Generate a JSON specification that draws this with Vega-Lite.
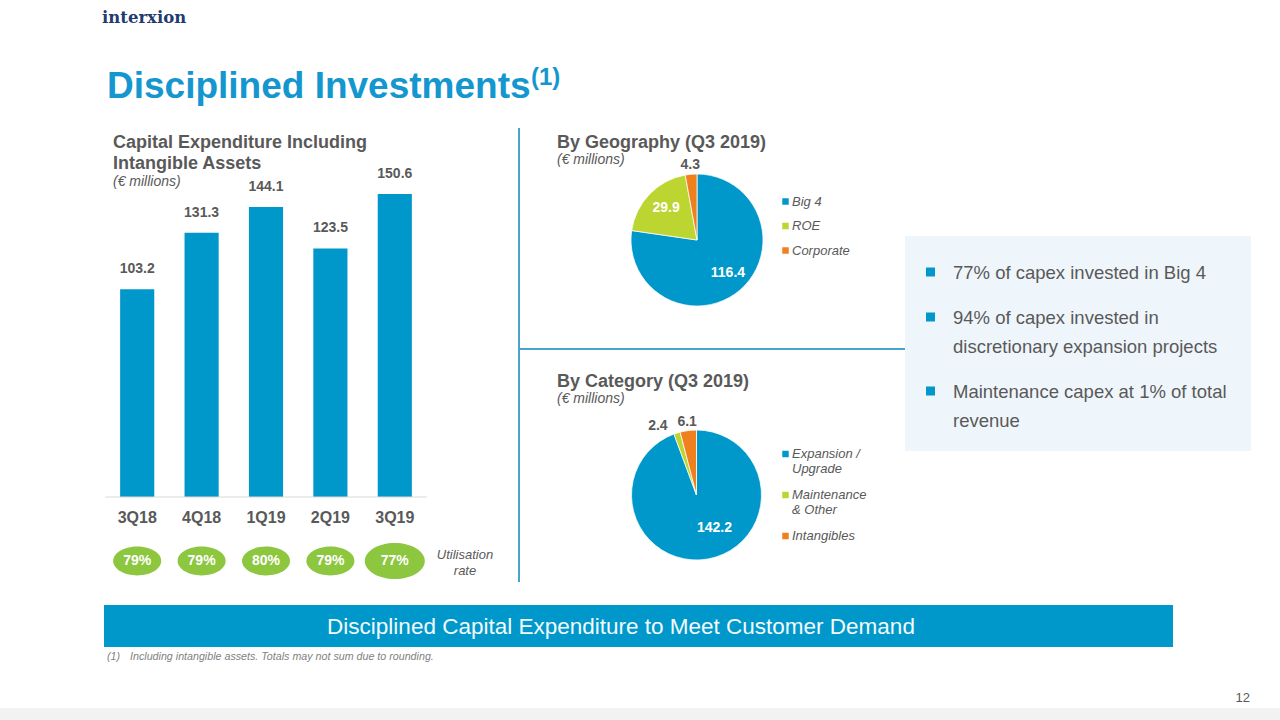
{
  "$schema": "https://vega.github.io/schema/vega-lite/v6.json",
  "padding": 0,
  "background": "white",
  "spacing": 0,
  "resolve": {"scale": {"color": "independent", "theta": "independent"}},
  "config": {"view": {"stroke": null}, "font": "Liberation Sans", "concat": {"spacing": 0}},
  "datasets": {
    "capex": [
      {"q": "3Q18", "capex": 103.2, "util": "79%"},
      {"q": "4Q18", "capex": 131.3, "util": "79%"},
      {"q": "1Q19", "capex": 144.1, "util": "80%"},
      {"q": "2Q19", "capex": 123.5, "util": "79%"},
      {"q": "3Q19", "capex": 150.6, "util": "77%"}
    ],
    "geo": [
      {"cat": "Big 4", "v": 116.4, "o": 1},
      {"cat": "ROE", "v": 29.9, "o": 2},
      {"cat": "Corporate", "v": 4.3, "o": 3}
    ],
    "kind": [
      {"cat": "Expansion / Upgrade", "v": 142.2, "o": 1},
      {"cat": "Maintenance & Other", "v": 2.4, "o": 2},
      {"cat": "Intangibles", "v": 6.1, "o": 3}
    ],
    "none": []
  },
  "vconcat": [
    {
      "width": 1280, "height": 128,
      "data": {"values": [{}]},
      "layer": [
        {"mark": {"type": "text", "text": "interxion", "x": 102, "y": 23, "align": "left", "baseline": "alphabetic", "font": "DejaVu Serif", "fontWeight": "bold", "fontSize": 16.5, "fill": "#1F3B6F"}},
        {"mark": {"type": "text", "text": "Disciplined Investments", "x": 107, "y": 98, "align": "left", "baseline": "alphabetic", "fontWeight": "bold", "fontSize": 37, "fill": "#1496CF"}},
        {"mark": {"type": "text", "text": "(1)", "x": 531, "y": 85, "align": "left", "baseline": "alphabetic", "fontWeight": "bold", "fontSize": 24, "fill": "#1496CF"}}
      ]
    },
    {
      "spacing": 0,
      "resolve": {"scale": {"color": "independent", "theta": "independent"}},
      "hconcat": [
        {
          "width": 518, "height": 454,
          "data": {"name": "capex"},
          "layer": [
            {
              "mark": {"type": "bar", "fill": "#0098CA"},
              "encoding": {
                "x": {"field": "q", "type": "nominal", "sort": null, "axis": null,
                      "scale": {"domain": ["3Q18", "4Q18", "1Q19", "2Q19", "3Q19"], "range": [105, 427], "paddingInner": 0.47, "paddingOuter": 0.235}},
                "y": {"field": "capex", "type": "quantitative", "axis": null, "scale": {"domain": [0, 160], "range": [369, 47]}}
              }
            },
            {
              "mark": {"type": "text", "dy": -20, "fontWeight": "bold", "fontSize": 14, "fill": "#595959", "baseline": "middle"},
              "encoding": {
                "x": {"field": "q", "type": "nominal"},
                "y": {"field": "capex", "type": "quantitative"},
                "text": {"field": "capex", "type": "quantitative", "format": ".1f"}
              }
            },
            {
              "mark": {"type": "text", "dy": 21, "fontWeight": "bold", "fontSize": 16, "fill": "#595959", "baseline": "middle"},
              "encoding": {
                "x": {"field": "q", "type": "nominal"},
                "y": {"datum": 0},
                "text": {"field": "q"}
              }
            },
            {
              "data": {"values": [{}]},
              "mark": {"type": "rule", "stroke": "#D9D9D9", "strokeWidth": 1, "xOffset": -32, "x2Offset": 32},
              "encoding": {"x": {"datum": "3Q18"}, "x2": {"datum": "3Q19"}, "y": {"datum": 0}}
            },
            {
              "mark": {"type": "point", "shape": "M -1 0 C -1 -0.3314 -0.5523 -0.6 0 -0.6 C 0.5523 -0.6 1 -0.3314 1 0 C 1 0.3314 0.5523 0.6 0 0.6 C -0.5523 0.6 -1 0.3314 -1 0 Z", "filled": true, "fill": "#8DC63F", "opacity": 1, "strokeWidth": 0, "y": 433},
              "encoding": {
                "x": {"field": "q", "type": "nominal"},
                "size": {"condition": {"test": "datum.q === '3Q19'", "value": 3600}, "value": 2304}
              }
            },
            {
              "mark": {"type": "text", "fill": "white", "fontWeight": "bold", "fontSize": 14, "y": 433, "baseline": "middle"},
              "encoding": {"x": {"field": "q", "type": "nominal"}, "text": {"field": "util"}}
            },
            {
              "data": {"values": [{}]},
              "mark": {"type": "text", "text": ["Capital Expenditure Including", "Intangible Assets"], "x": 113, "y": 19.5, "align": "left", "baseline": "alphabetic", "lineHeight": 21, "fontWeight": "bold", "fontSize": 18, "fill": "#595959"}
            },
            {
              "data": {"values": [{}]},
              "mark": {"type": "text", "text": "(€ millions)", "x": 113, "y": 57.5, "align": "left", "baseline": "alphabetic", "fontStyle": "italic", "fontSize": 14, "fill": "#595959"}
            },
            {
              "data": {"values": [{}]},
              "mark": {"type": "text", "text": ["Utilisation", "rate"], "x": 465, "y": 431, "align": "center", "baseline": "alphabetic", "lineHeight": 16, "fontStyle": "italic", "fontSize": 13, "fill": "#595959"}
            }
          ]
        },
        {
          "width": 2, "height": 454, "view": {"fill": "#4AA3CC"},
          "data": {"name": "none"},
          "mark": {"type": "text", "text": ""}
        },
        {
          "spacing": 0,
          "resolve": {"scale": {"color": "independent", "theta": "independent"}},
          "vconcat": [
            {
              "width": 385, "height": 220,
              "data": {"name": "geo"},
              "layer": [
                {
                  "mark": {"type": "arc", "outerRadius": 66, "xOffset": -15.5, "yOffset": 2, "stroke": "white", "strokeWidth": 0.75},
                  "encoding": {
                    "theta": {"field": "v", "type": "quantitative", "stack": true},
                    "order": {"field": "o", "type": "quantitative"},
                    "color": {"field": "cat", "type": "nominal", "sort": null,
                      "scale": {"domain": ["Big 4", "ROE", "Corporate"], "range": ["#0098CA", "#BDD531", "#F07F1E"]},
                      "legend": {"orient": "none", "legendX": 259, "legendY": 67, "title": null, "symbolType": "square", "symbolSize": 42, "symbolStrokeWidth": 0, "labelFontSize": 13, "labelFontStyle": "italic", "labelColor": "#595959", "labelFont": "Liberation Sans", "labelOffset": 0, "rowPadding": 10.5, "padding": 0, "labelBaseline": "middle"}}
                  }
                },
                {
                  "mark": {"type": "text", "radius": 45, "xOffset": -14, "yOffset": 1, "fill": "white", "fontWeight": "bold", "fontSize": 14, "baseline": "middle"},
                  "encoding": {
                    "theta": {"field": "v", "type": "quantitative", "stack": true},
                    "order": {"field": "o", "type": "quantitative"},
                    "detail": {"field": "cat"},
                    "text": {"condition": {"test": "datum.v < 10", "value": ""}, "field": "v", "type": "quantitative", "format": ".1f"}
                  }
                },
                {
                  "mark": {"type": "text", "radius": 75, "xOffset": -15.5, "yOffset": 2, "fill": "#595959", "fontWeight": "bold", "fontSize": 14, "baseline": "middle"},
                  "encoding": {
                    "theta": {"field": "v", "type": "quantitative", "stack": true},
                    "order": {"field": "o", "type": "quantitative"},
                    "detail": {"field": "cat"},
                    "text": {"condition": {"test": "datum.v >= 10", "value": ""}, "field": "v", "type": "quantitative", "format": ".1f"}
                  }
                },
                {
                  "data": {"values": [{}]},
                  "mark": {"type": "text", "text": "By Geography (Q3 2019)", "x": 37, "y": 19.5, "align": "left", "baseline": "alphabetic", "fontWeight": "bold", "fontSize": 18, "fill": "#595959"}
                },
                {
                  "data": {"values": [{}]},
                  "mark": {"type": "text", "text": "(€ millions)", "x": 37, "y": 36, "align": "left", "baseline": "alphabetic", "fontStyle": "italic", "fontSize": 14, "fill": "#595959"}
                }
              ]
            },
            {
              "width": 385, "height": 2, "view": {"fill": "#4AA3CC"},
              "data": {"name": "none"},
              "mark": {"type": "text", "text": ""}
            },
            {
              "width": 385, "height": 232,
              "data": {"name": "kind"},
              "layer": [
                {
                  "mark": {"type": "arc", "outerRadius": 65, "xOffset": -16, "yOffset": 29, "stroke": "white", "strokeWidth": 0.75},
                  "encoding": {
                    "theta": {"field": "v", "type": "quantitative", "stack": true},
                    "order": {"field": "o", "type": "quantitative"},
                    "color": {"field": "cat", "type": "nominal", "sort": null,
                      "scale": {"domain": ["Expansion / Upgrade", "Maintenance & Other", "Intangibles"], "range": ["#0098CA", "#BDD531", "#F07F1E"]},
                      "legend": {"orient": "none", "legendX": 259, "legendY": 97.5, "title": null, "symbolType": "square", "symbolSize": 42, "symbolStrokeWidth": 0, "labelFontSize": 13, "labelFontStyle": "italic", "labelColor": "#595959", "labelFont": "Liberation Sans", "labelOffset": 0, "rowPadding": 12, "padding": 0, "labelBaseline": "middle",
                        "labelExpr": "datum.label === 'Expansion / Upgrade' ? ['Expansion /', 'Upgrade'] : datum.label === 'Maintenance & Other' ? ['Maintenance', '& Other'] : datum.label"}}
                  }
                },
                {
                  "mark": {"type": "text", "radius": 34, "xOffset": -4, "yOffset": 29, "fill": "white", "fontWeight": "bold", "fontSize": 14, "baseline": "middle"},
                  "encoding": {
                    "theta": {"field": "v", "type": "quantitative", "stack": true},
                    "order": {"field": "o", "type": "quantitative"},
                    "detail": {"field": "cat"},
                    "text": {"condition": {"test": "datum.v < 10", "value": ""}, "field": "v", "type": "quantitative", "format": ".1f"}
                  }
                },
                {
                  "mark": {"type": "text", "radius": 74, "xOffset": -16, "yOffset": 29, "fill": "#595959", "fontWeight": "bold", "fontSize": 14, "baseline": "middle"},
                  "encoding": {
                    "theta": {"field": "v", "type": "quantitative", "stack": true},
                    "order": {"field": "o", "type": "quantitative"},
                    "detail": {"field": "cat"},
                    "text": {"condition": {"test": "datum.cat !== 'Intangibles'", "value": ""}, "field": "v", "type": "quantitative", "format": ".1f"}
                  }
                },
                {
                  "mark": {"type": "text", "radius": 72, "xOffset": -33, "yOffset": 29, "fill": "#595959", "fontWeight": "bold", "fontSize": 14, "baseline": "middle"},
                  "encoding": {
                    "theta": {"field": "v", "type": "quantitative", "stack": true},
                    "order": {"field": "o", "type": "quantitative"},
                    "detail": {"field": "cat"},
                    "text": {"condition": {"test": "datum.cat !== 'Maintenance & Other'", "value": ""}, "field": "v", "type": "quantitative", "format": ".1f"}
                  }
                },
                {
                  "data": {"values": [{}]},
                  "mark": {"type": "text", "text": "By Category (Q3 2019)", "x": 37, "y": 36.5, "align": "left", "baseline": "alphabetic", "fontWeight": "bold", "fontSize": 18, "fill": "#595959"}
                },
                {
                  "data": {"values": [{}]},
                  "mark": {"type": "text", "text": "(€ millions)", "x": 37, "y": 53, "align": "left", "baseline": "alphabetic", "fontStyle": "italic", "fontSize": 14, "fill": "#595959"}
                }
              ]
            }
          ]
        },
        {
          "spacing": 0,
          "vconcat": [
            {
              "width": 346, "height": 108,
              "data": {"name": "none"},
              "mark": {"type": "text", "text": ""}
            },
            {
              "width": 346, "height": 215, "view": {"fill": "#EFF6FB"},
              "data": {"values": [{}]},
              "layer": [
                {"mark": {"type": "square", "size": 81, "fill": "#0098CA", "opacity": 1, "x": 25.5, "y": 36}},
                {"mark": {"type": "square", "size": 81, "fill": "#0098CA", "opacity": 1, "x": 25.5, "y": 81}},
                {"mark": {"type": "square", "size": 81, "fill": "#0098CA", "opacity": 1, "x": 25.5, "y": 155}},
                {"mark": {"type": "text", "text": "77% of capex invested in Big 4", "x": 48, "y": 42.5, "align": "left", "baseline": "alphabetic", "fontSize": 18.5, "fill": "#595959"}},
                {"mark": {"type": "text", "text": ["94% of capex invested in", "discretionary expansion projects"], "x": 48, "y": 87.5, "lineHeight": 29, "align": "left", "baseline": "alphabetic", "fontSize": 18.5, "fill": "#595959"}},
                {"mark": {"type": "text", "text": ["Maintenance capex at 1% of total", "revenue"], "x": 48, "y": 161.5, "lineHeight": 29, "align": "left", "baseline": "alphabetic", "fontSize": 18.5, "fill": "#595959"}}
              ]
            },
            {
              "width": 346, "height": 131,
              "data": {"name": "none"},
              "mark": {"type": "text", "text": ""}
            }
          ]
        }
      ]
    },
    {
      "width": 1280, "height": 23,
      "data": {"name": "none"},
      "mark": {"type": "text", "text": ""}
    },
    {
      "spacing": 0,
      "hconcat": [
        {
          "width": 104, "height": 42,
          "data": {"name": "none"},
          "mark": {"type": "text", "text": ""}
        },
        {
          "width": 1069, "height": 42, "view": {"fill": "#0098CA"},
          "data": {"values": [{}]},
          "mark": {"type": "text", "text": "Disciplined Capital Expenditure to Meet Customer Demand", "x": 517, "y": 22, "align": "center", "baseline": "middle", "fontSize": 22.5, "fill": "#F2FAFD"}
        }
      ]
    },
    {
      "width": 1280, "height": 61,
      "data": {"values": [{}]},
      "layer": [
        {"mark": {"type": "text", "text": "(1)", "x": 107, "y": 10, "align": "left", "baseline": "middle", "fontStyle": "italic", "fontSize": 10.7, "fill": "#7F7F7F"}},
        {"mark": {"type": "text", "text": "Including intangible assets. Totals may not sum due to rounding.", "x": 130, "y": 10, "align": "left", "baseline": "middle", "fontStyle": "italic", "fontSize": 10.7, "fill": "#7F7F7F"}},
        {"mark": {"type": "text", "text": "12", "x": 1250, "y": 51, "align": "right", "baseline": "middle", "fontSize": 13, "fill": "#595959"}}
      ]
    },
    {
      "width": 1280, "height": 12, "view": {"fill": "#F2F2F2"},
      "data": {"name": "none"},
      "mark": {"type": "text", "text": ""}
    }
  ]
}
